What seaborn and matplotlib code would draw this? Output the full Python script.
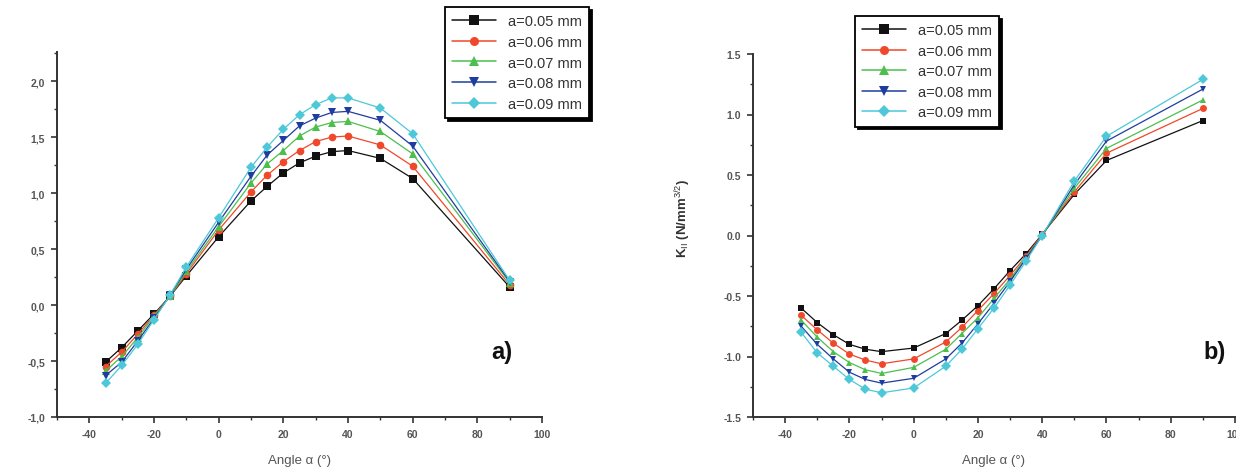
import numpy as np
import pandas as pd
import matplotlib
matplotlib.use("Agg")
import matplotlib.pyplot as plt
import seaborn as sns

# ---------------- data ----------------
angles = [-35, -30, -25, -20, -15, -10, 0, 10, 15, 20, 25, 30, 35, 40, 50, 60, 90]
series_labels = ["a=0.05 mm", "a=0.06 mm", "a=0.07 mm", "a=0.08 mm", "a=0.09 mm"]

# panel a) K_I
ki_005 = [-0.51, -0.38, -0.23, -0.08, 0.08, 0.26, 0.61, 0.93, 1.06, 1.18, 1.27, 1.33, 1.37, 1.38, 1.31, 1.13, 0.16]
ki_006 = [-0.55, -0.42, -0.26, -0.09, 0.08, 0.28, 0.67, 1.01, 1.16, 1.28, 1.38, 1.46, 1.50, 1.51, 1.43, 1.24, 0.18]
ki_007 = [-0.59, -0.46, -0.29, -0.10, 0.08, 0.30, 0.70, 1.09, 1.26, 1.38, 1.51, 1.59, 1.63, 1.64, 1.55, 1.35, 0.20]
ki_008 = [-0.63, -0.51, -0.32, -0.12, 0.09, 0.32, 0.74, 1.15, 1.34, 1.47, 1.60, 1.67, 1.72, 1.73, 1.65, 1.42, 0.21]
ki_009 = [-0.70, -0.54, -0.35, -0.13, 0.09, 0.34, 0.78, 1.23, 1.41, 1.57, 1.70, 1.79, 1.85, 1.85, 1.76, 1.53, 0.22]

# panel b) K_II
kii_005 = [-0.60, -0.72, -0.82, -0.90, -0.94, -0.96, -0.93, -0.81, -0.70, -0.58, -0.44, -0.29, -0.15, 0.01, 0.34, 0.62, 0.95]
kii_006 = [-0.66, -0.78, -0.89, -0.98, -1.03, -1.06, -1.02, -0.88, -0.76, -0.62, -0.48, -0.33, -0.17, 0.01, 0.36, 0.68, 1.05]
kii_007 = [-0.70, -0.84, -0.96, -1.05, -1.11, -1.14, -1.09, -0.94, -0.81, -0.68, -0.52, -0.36, -0.18, 0.00, 0.39, 0.72, 1.12]
kii_008 = [-0.75, -0.90, -1.02, -1.13, -1.19, -1.22, -1.18, -1.02, -0.89, -0.73, -0.56, -0.38, -0.19, 0.00, 0.42, 0.78, 1.21]
kii_009 = [-0.80, -0.97, -1.08, -1.19, -1.27, -1.30, -1.26, -1.08, -0.94, -0.77, -0.60, -0.41, -0.21, 0.00, 0.45, 0.82, 1.29]

left_yticks = [-1.0, -0.5, 0.0, 0.5, 1.0, 1.5, 2.0]
left_yticklabels = ["-1,0", "-0,5", "0,0", "0,5", "1,0", "1,5", "2,0"]
right_yticks = [-1.5, -1.0, -0.5, 0.0, 0.5, 1.0, 1.5]
right_yticklabels = ["-1.5", "-1.0", "-0.5", "0.0", "0.5", "1.0", "1.5"]
xticks = [-40, -20, 0, 20, 40, 60, 80, 100]
xticklabels = ["-40", "-20", "0", "20", "40", "60", "80", "100"]

colors = ["#111111", "#f0482a", "#4cbf4c", "#1f3d9e", "#4cc8d8"]
markers = ["s", "o", "^", "v", "D"]


def long_df(series):
    rows = []
    for lab, vals in zip(series_labels, series):
        for a, v in zip(angles, vals):
            rows.append({"angle": a, "K": v, "s": lab})
    return pd.DataFrame(rows)


df_a = long_df([ki_005, ki_006, ki_007, ki_008, ki_009])
df_b = long_df([kii_005, kii_006, kii_007, kii_008, kii_009])

# ---------------- figure ----------------
sns.set_theme(style="ticks")
plt.rcParams["font.family"] = ["Liberation Sans", "DejaVu Sans"]
plt.rcParams["axes.unicode_minus"] = False
plt.rcParams["mathtext.fontset"] = "custom"
plt.rcParams["mathtext.rm"] = "Liberation Sans"
plt.rcParams["mathtext.it"] = "Liberation Sans"

fig = plt.figure(figsize=(12.36, 4.77), dpi=100)
axA = fig.add_axes([57 / 1236, 59 / 477, 485 / 1236, 365 / 477])
axB = fig.add_axes([753 / 1236, 59 / 477, 482 / 1236, 363 / 477])

pal = dict(zip(series_labels, colors))
mk = dict(zip(series_labels, markers))

for ax, df, ms in [(axA, df_a, 5.5), (axB, df_b, 5.0)]:
    sns.lineplot(data=df, x="angle", y="K", hue="s", style="s",
                 hue_order=series_labels, style_order=series_labels,
                 palette=pal, markers=mk, dashes=False, ax=ax,
                 linewidth=0.9, markersize=ms, markeredgewidth=0, sort=False)
    ax.set_xlim(-50, 100)
    ax.set_xticks(xticks)
    ax.set_xticklabels(xticklabels, fontweight="bold")
    ax.set_xticks(np.arange(-50, 101, 10), minor=True)
    for side in ["top", "right"]:
        ax.spines[side].set_visible(False)
    for side in ["left", "bottom"]:
        ax.spines[side].set_linewidth(1.4)
        ax.spines[side].set_color("#333333")
    ax.tick_params(which="major", length=4.5, width=1.2, color="#333333",
                   labelsize=7.5, labelcolor="#555555", pad=4)
    ax.tick_params(which="minor", length=2.5, width=1.0, color="#333333")
    ax.set_xlabel("Angle α (°)", fontsize=9.5, color="#555555", labelpad=11)

axA.set_ylim(-1.0, 2.26)
axA.set_yticks(left_yticks)
axA.set_yticklabels(left_yticklabels, fontweight="bold")
axA.set_yticks(np.arange(-1.0, 2.26, 0.25), minor=True)
axA.set_ylabel(r"K$_{I}$ (N/mm$^{3/2}$)", fontsize=9.5, color="#333333", fontweight="bold")
axA.yaxis.set_label_coords(-0.124, 0.55)

axB.set_ylim(-1.5, 1.5)
axB.set_yticks(right_yticks)
axB.set_yticklabels(right_yticklabels, fontweight="bold")
axB.set_yticks(np.arange(-1.5, 1.51, 0.25), minor=True)
axB.set_ylabel(r"K$_{II}$ (N/mm$^{3/2}$)", fontsize=9.5, color="#333333", fontweight="bold")
axB.yaxis.set_label_coords(-0.124, 0.55)

legend_kw = dict(title=None, frameon=True, fancybox=False, shadow={"color": "black", "alpha": 1.0},
                 fontsize=10.5, labelspacing=0.45, handlelength=3.0, handletextpad=0.8,
                 borderpad=0.5, borderaxespad=0, edgecolor="black", framealpha=1.0)
sns.move_legend(axA, "upper left", bbox_to_anchor=(0.80, 1.123), **legend_kw)
sns.move_legend(axB, "upper left", bbox_to_anchor=(0.212, 1.105), **legend_kw)
for ax in (axA, axB):
    leg = ax.get_legend()
    leg.get_frame().set_linewidth(1.3)
    for t in leg.get_texts():
        t.set_color("#333333")
    for h in leg.legend_handles:
        h.set_markersize(6.5)
        h.set_linewidth(1.1)
    leg.set_clip_on(False)

axA.text(0.918, 0.18, "a)", transform=axA.transAxes, fontsize=17, fontweight="bold",
         ha="center", va="center", color="#111111")
axB.text(0.958, 0.18, "b)", transform=axB.transAxes, fontsize=17, fontweight="bold",
         ha="center", va="center", color="#111111")

fig.savefig("out.png", dpi=100)
